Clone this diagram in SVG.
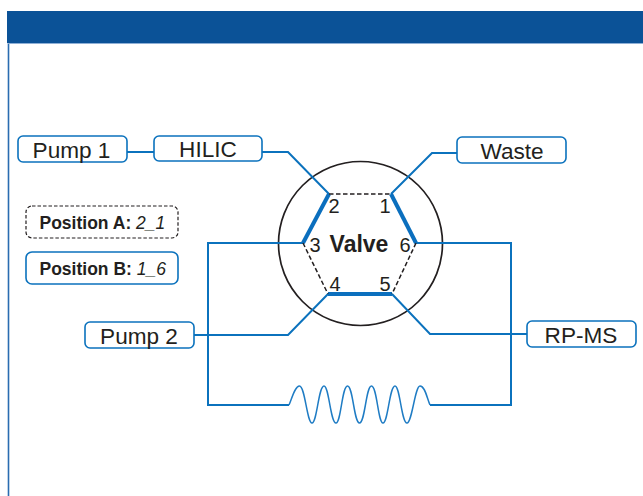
<svg xmlns="http://www.w3.org/2000/svg" width="643" height="496" viewBox="0 0 643 496">
<style>
text{font-family:"Liberation Sans",Arial,sans-serif;fill:#231f20}
.box{fill:#fff;stroke:#0b72bd;stroke-width:1.6}
.lab{font-size:22.6px;text-anchor:middle}
.num{font-size:20px;text-anchor:middle}
.pos{font-size:17.5px;font-weight:bold}
.pos tspan{font-weight:normal;font-style:italic}
.c{fill:none;stroke:#0b72bd;stroke-width:2;stroke-linejoin:miter}
.thick{fill:none;stroke:#0b6fbe;stroke-width:4}
.dash{fill:none;stroke:#231f20;stroke-width:1.5;stroke-dasharray:4.5 2.5}
</style>
<rect width="643" height="496" fill="#fff"/>
<g id="frame">
<rect x="7" y="11" width="636" height="32" fill="#0b5297"/>
<line x1="8.5" y1="43" x2="8.5" y2="496" stroke="#2a6cb0" stroke-width="1.6"/>
<line x1="8" y1="43.5" x2="643" y2="43.5" stroke="#8fb0d6" stroke-width="1"/>
</g>
<g id="valve-body"><circle cx="360.500" cy="243.500" r="82" fill="none" stroke="#231f20" stroke-width="1.700"/></g>
<g id="connectors">
<path class="c" d="M127 152H154"/>
<path class="c" d="M262 152H288L329 194"/>
<path class="c" d="M457 153H432L391 194"/>
<path class="c" d="M527 334H430L392 294"/>
<path class="c" d="M194 335H288L328 294"/>
<path class="c" d="M303 243H208V405H289"/>
<path class="c" d="M416 243H511V405H430"/>
<path fill="none" stroke="#1f7cc4" stroke-width="1.500" d="M289 405C292 398 295 386 299.500 386C305 386 307 423 312 423C317 423 318.500 386 324 386C329 386 330.500 423 336 423C341 423 342 386 347.500 386C353 386 354 423 359.500 423C365 423 366 386 371.500 386C377 386 378 423 383 423C388 423 389.500 386 395 386C400 386 401.500 423 407 423C412 423 415 386 420 386C425 386 427 398 430 405"/>
<path class="thick" d="M329 194L303 243"/>
<path class="thick" d="M391 194L416 243"/>
<path class="thick" d="M328 294H392"/>
<path class="dash" d="M329 194H391"/>
<path class="dash" d="M303 243L328 294"/>
<path class="dash" d="M416 243L392 294"/>
</g>
<g id="valve-labels">
<text class="num" x="334" y="213">2</text>
<text class="num" x="385" y="213">1</text>
<text class="num" x="315" y="252">3</text>
<text class="num" x="405" y="252">6</text>
<text class="num" x="335" y="291">4</text>
<text class="num" x="385" y="291">5</text>
<text x="359" y="252" font-size="23" font-weight="bold" text-anchor="middle">Valve</text>
</g>
<g id="pump1"><rect class="box" x="18" y="136" width="109" height="26" rx="5"/><text class="lab" x="71.500" y="158">Pump 1</text></g>
<g id="hilic"><rect class="box" x="154" y="136" width="108" height="25" rx="5"/><text class="lab" x="208" y="157">HILIC</text></g>
<g id="waste"><rect class="box" x="457" y="137" width="109" height="26" rx="5"/><text class="lab" x="512" y="159">Waste</text></g>
<g id="rpms"><rect class="box" x="527" y="321" width="109" height="26" rx="5"/><text class="lab" x="581" y="343">RP-MS</text></g>
<g id="pump2"><rect class="box" x="85" y="322" width="109" height="26" rx="5"/><text class="lab" x="139" y="344">Pump 2</text></g>
<g id="position-a"><rect x="26" y="206" width="152" height="32" rx="6" fill="#fff" stroke="#231f20" stroke-width="1.200" stroke-dasharray="3.500 2"/><text class="pos" x="39.500" y="229">Position A: <tspan>2_1</tspan></text></g>
<g id="position-b"><rect class="box" x="26" y="252" width="152" height="32" rx="6"/><text class="pos" x="39.500" y="275">Position B: <tspan>1_6</tspan></text></g>
</svg>
